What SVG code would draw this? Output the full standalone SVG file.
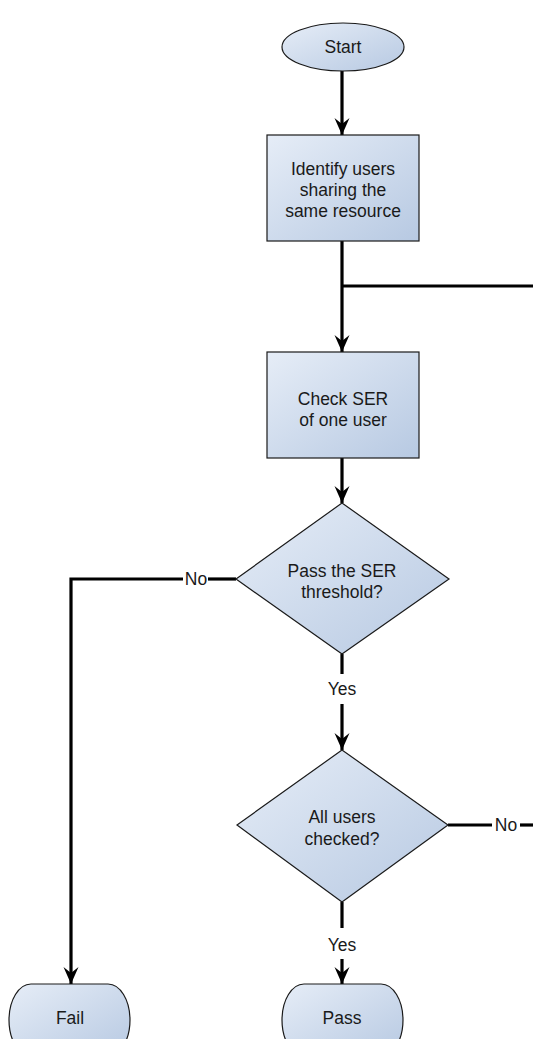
<svg xmlns="http://www.w3.org/2000/svg" width="533" height="1039" viewBox="0 0 533 1039">
<defs>
<linearGradient id="fill" x1="0" y1="0" x2="1" y2="1">
<stop offset="0" stop-color="#e6edf7"/>
<stop offset="1" stop-color="#b7c9e2"/>
</linearGradient>
<marker id="arr" markerUnits="userSpaceOnUse" viewBox="-17 -8 18 16" refX="0" refY="0" markerWidth="18" markerHeight="16" orient="auto">
<path d="M0,0 L-17,-7.5 L-11,0 L-17,7.5 Z" fill="#000"/>
</marker>
<style>
.shape{fill:url(#fill);stroke:#1a1a1a;stroke-width:1.2}
.t{font-family:"Liberation Sans",Arial,sans-serif;font-size:17.5px;fill:#1a1a1a;text-anchor:middle}
.c{fill:none;stroke:#000;stroke-width:3.2}
.ca{fill:none;stroke:#000;stroke-width:3.2;marker-end:url(#arr)}
</style>
</defs>
<rect width="533" height="1039" fill="#fff"/>
<g id="connectors">
<path class="ca" d="M342,71 V135"/>
<path class="ca" d="M342,241 V352"/>
<path class="c" d="M342,286 H533"/>
<path class="ca" d="M342,458 V503"/>
<path class="c" d="M236,579 H208"/>
<path class="ca" d="M183,579 H71 V984"/>
<path class="c" d="M342,654 V674"/>
<path class="ca" d="M342,704 V750"/>
<path class="c" d="M448,825 H492"/>
<path class="c" d="M520,825 H533"/>
<path class="c" d="M342,902 V928"/>
<path class="ca" d="M342,959 V984"/>
<text class="t" x="196" y="585">No</text>
<text class="t" x="342" y="695">Yes</text>
<text class="t" x="506" y="831">No</text>
<text class="t" x="342" y="951">Yes</text>
</g>
<g id="start">
<ellipse class="shape" cx="343" cy="47" rx="61" ry="24"/>
<text class="t" x="343" y="53">Start</text>
</g>
<g id="identify">
<rect class="shape" x="267" y="135" width="152" height="106"/>
<text class="t" x="343" y="175">Identify users</text>
<text class="t" x="343" y="196">sharing the</text>
<text class="t" x="343" y="217">same resource</text>
</g>
<g id="check">
<rect class="shape" x="267" y="352" width="152" height="106"/>
<text class="t" x="343" y="405">Check SER</text>
<text class="t" x="343" y="426">of one user</text>
</g>
<g id="pass-threshold">
<polygon class="shape" points="342,503 449,579 342,654 236,579"/>
<text class="t" x="342" y="577">Pass the SER</text>
<text class="t" x="342" y="598">threshold?</text>
</g>
<g id="all-checked">
<polygon class="shape" points="342,750 448,825 342,902 237,825"/>
<text class="t" x="342" y="823">All users</text>
<text class="t" x="342" y="845">checked?</text>
</g>
<g id="fail">
<rect class="shape" x="9" y="984" width="121" height="72" rx="22" ry="36"/>
<text class="t" x="70" y="1024">Fail</text>
</g>
<g id="pass">
<rect class="shape" x="282" y="984" width="121" height="72" rx="22" ry="36"/>
<text class="t" x="342" y="1024">Pass</text>
</g>
</svg>
